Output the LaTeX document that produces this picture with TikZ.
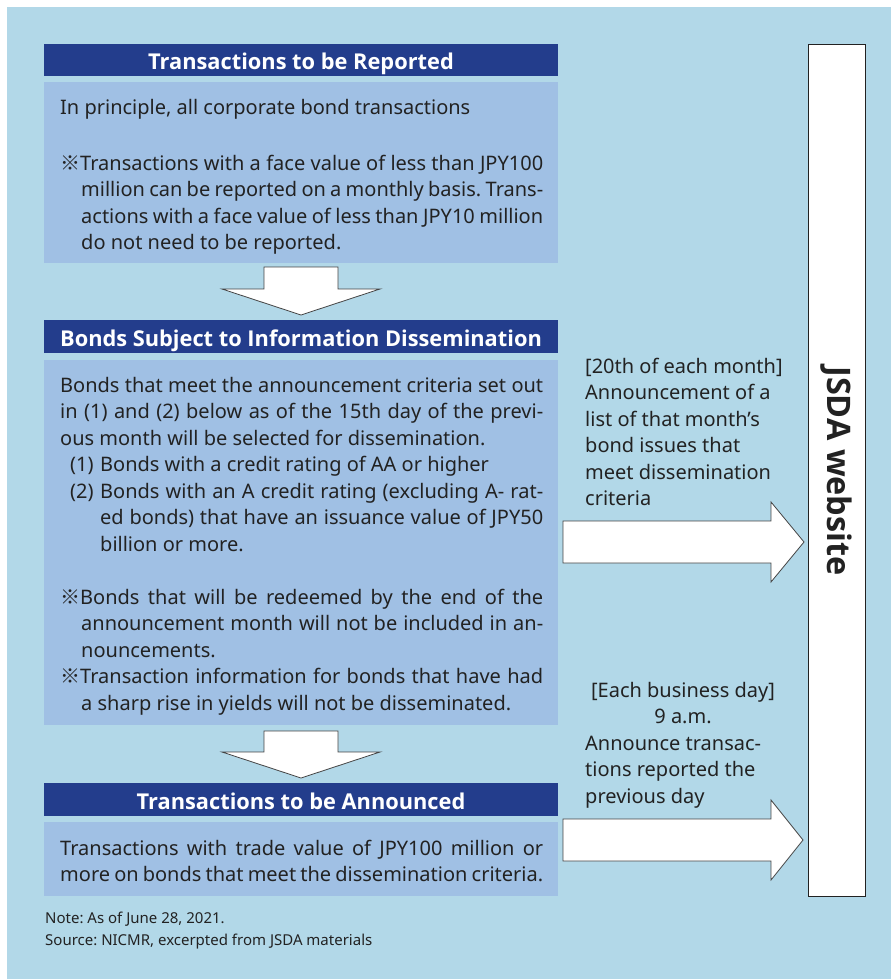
\documentclass[tikz,border=0pt]{standalone}
\usepackage{fontspec}
\setmainfont{Noto Sans}
\newfontfamily\hdrfont{Open Sans}
\newfontfamily\cjk{Noto Sans CJK JP}
\frenchspacing
\definecolor{bgblue}{HTML}{B2D8E8}
\definecolor{boxblue}{HTML}{A0C0E4}
\definecolor{hdrblue}{HTML}{233D8C}
\definecolor{txt}{HTML}{222222}
\definecolor{edge}{HTML}{444444}
\newcommand{\kome}{{\cjk ※}}
\newcommand{\jl}[2]{\makebox[#1pt][s]{#2}}
\tikzset{
  ln/.style={anchor=base west, inner sep=0pt, text=txt, font=\fontsize{20}{26.5}\selectfont},
  lnc/.style={anchor=base, inner sep=0pt, text=txt, font=\fontsize{20}{26.5}\selectfont},
  hdr/.style={fill=hdrblue, inner sep=0pt},
  hdrtext/.style={anchor=base, text=white, font=\hdrfont\fontsize{21.8}{25}\selectfont\bfseries, inner sep=0pt},
  body/.style={fill=boxblue},
  blockarrow/.style={fill=white, draw=edge, line width=0.8pt, line join=miter},
  note/.style={anchor=base west, inner sep=0pt, text=txt, font=\fontsize{15}{22}\selectfont}
}
\begin{document}
\begin{tikzpicture}[x=1pt,y=-1pt]
\useasboundingbox (0,0) rectangle (891,979);
\fill[white] (0,0) rectangle (891,979);
\fill[bgblue] (7,7) rectangle (891,979);

% headers and bodies
\fill[hdr] (44,44) rectangle (558,76);
\node[hdrtext] (h1) at (301,70) {Transactions to be Reported};
\fill[body] (44,82) rectangle (558,263);

\fill[hdr] (44,320) rectangle (558,353);
\node[hdrtext] (h2) at (301,346) {Bonds Subject to Information Dissemination};
\fill[body] (44,360) rectangle (558,725);

\fill[hdr] (44,783) rectangle (558,816);
\node[hdrtext] (h3) at (301,809) {Transactions to be Announced};
\fill[body] (44,822) rectangle (558,896);

% box 1 text
\node[ln] (a1) at (60,115) {In principle, all corporate bond transactions};
\node[ln] (a2) at (60,170) {\jl{483}{\kome Transactions with a face value of less than JPY100}};
\node[ln] (a3) at (81,196.5) {\jl{462}{million can be reported on a monthly basis. Trans-}};
\node[ln] (a4) at (81,223) {\jl{462}{actions with a face value of less than JPY10 million}};
\node[ln] (a5) at (81,249.5) {do not need to be reported.};

% box 2 text
\node[ln] (b1) at (60,392) {\jl{483}{Bonds that meet the announcement criteria set out}};
\node[ln] (b2) at (60,418.5) {\jl{483}{in (1) and (2) below as of the 15th day of the previ-}};
\node[ln] (b3) at (60,445) {ous month will be selected for dissemination.};
\node[ln] (b4n) at (70,471.5) {(1)};
\node[ln] (b4) at (100,471.5) {Bonds with a credit rating of AA or higher};
\node[ln] (b5n) at (70,498) {(2)};
\node[ln] (b5) at (100,498) {\jl{443}{Bonds with an A credit rating (excluding A- rat-}};
\node[ln] (b6) at (100,524.5) {\jl{443}{ed bonds) that have an issuance value of JPY50}};
\node[ln] (b7) at (100,551) {billion or more.};
\node[ln] (b8) at (60,604) {\jl{483}{\kome Bonds that will be redeemed by the end of the}};
\node[ln] (b9) at (81,630.5) {\jl{462}{announcement month will not be included in an-}};
\node[ln] (b10) at (81,657) {nouncements.};
\node[ln] (b11) at (60,683.5) {\jl{483}{\kome Transaction information for bonds that have had}};
\node[ln] (b12) at (81,710) {a sharp rise in yields will not be disseminated.};

% box 3 text
\node[ln] (c1) at (60,855) {\jl{483}{Transactions with trade value of JPY100 million or}};
\node[ln] (c2) at (60,881.5) {\jl{483}{more on bonds that meet the dissemination criteria.}};

% down arrows
\coordinate (d1) at (301,315);
\draw[blockarrow] (264,267) -- (338,267) -- (338,289) -- (380,289) -- (d1) -- (222,289) -- (264,289) -- cycle;
\coordinate (d2) at (301,778);
\draw[blockarrow] (264,731) -- (338,731) -- (338,752) -- (380,752) -- (d2) -- (222,752) -- (264,752) -- cycle;

% JSDA website
\draw[fill=white, draw=txt, line width=0.8pt] (808,44) rectangle (865,896);
\node[rotate=-90, inner sep=0pt, text=txt, font=\hdrfont\fontsize{32.4}{36}\selectfont\bfseries] (web) at (836.5,471) {JSDA website};

% right arrows
\coordinate (r1) at (804,542);
\draw[blockarrow] (563,521) -- (771,521) -- (771,502) -- (r1) -- (771,582) -- (771,563) -- (563,563) -- cycle;
\coordinate (r2) at (803,840);
\draw[blockarrow] (563,819) -- (771,819) -- (771,800) -- (r2) -- (771,880) -- (771,861) -- (563,861) -- cycle;

% right texts
\node[ln] (t1) at (585,373) {[20th of each month]};
\node[ln] (t2) at (585,399.5) {Announcement of a};
\node[ln] (t3) at (585,426) {list of that month’s};
\node[ln] (t4) at (585,452.5) {bond issues that};
\node[ln] (t5) at (585,479) {meet dissemination};
\node[ln] (t6) at (585,505.5) {criteria};

\node[lnc] (u1) at (683,697) {[Each business day]};
\node[lnc] (u2) at (683,723.5) {9 a.m.};
\node[ln] (u3) at (585,750) {Announce transac-};
\node[ln] (u4) at (585,776.5) {tions reported the};
\node[ln] (u5) at (585,803) {previous day};

% notes
\node[note] (n1) at (45,923) {Note: As of June 28, 2021.};
\node[note] (n2) at (45,945) {Source: NICMR, excerpted from JSDA materials};
\end{tikzpicture}
\end{document}
